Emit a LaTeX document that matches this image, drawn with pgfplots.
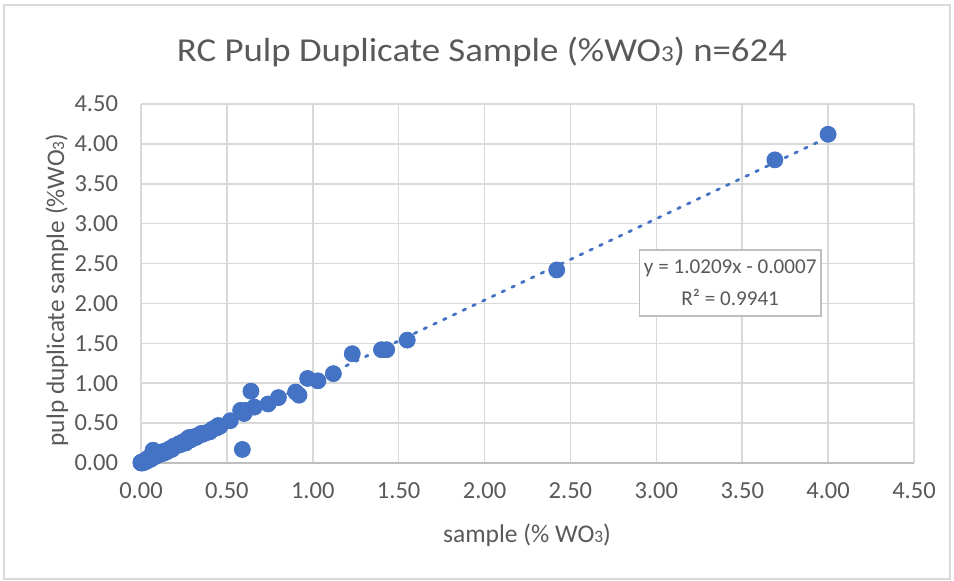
\documentclass[border=0pt]{standalone}
\usepackage{pgfplots}
\pgfplotsset{compat=1.18}
\usepackage{fontspec}
\setmainfont{Carlito}
\newfontfamily\titlefont{Carlito}[FakeStretch=1.1]
\definecolor{xlblue}{HTML}{4472C4}
\definecolor{txtgray}{HTML}{595959}
\definecolor{gridgray}{HTML}{D9D9D9}
\definecolor{axgray}{HTML}{BFBFBF}
\newcommand{\sub}[1]{{\fontsize{0.68\dimexpr\fontdimen6\font\relax}{1}\selectfont #1}}
\begin{document}
\begin{tikzpicture}
\useasboundingbox (-70.5bp,-59bp) rectangle (406.5bp,231.5bp);
\draw[gridgray, line width=0.8bp] (-68.5bp,-58bp) rectangle (404.5bp,229bp);
\begin{axis}[
  scale only axis,
  width=386.5bp, height=179.5bp,
  xmin=0, xmax=4.5, ymin=0, ymax=4.5,
  xtick={0,0.5,...,4.5}, ytick={0,0.5,...,4.5},
  grid=major,
  major grid style={gridgray, line width=0.8bp},
  axis line style={draw=none},
  tick style={draw=none},
  axis x line*=bottom,
  /pgf/number format/assume math mode=true,
  /pgf/number format/.cd, fixed, fixed zerofill, precision=2, /tikz/.cd,
  ticklabel style={font=\fontsize{12.3}{14}\selectfont, text=txtgray},
  xticklabel style={yshift=-6.5bp},
  yticklabel style={xshift=-8bp},
  clip=false,
]
\draw[axgray, line width=0.8bp] (axis cs:0,0) -- (axis cs:4.5,0);
\addplot[only marks, mark=*, mark size=4bp, xlblue, mark options={draw=xlblue, fill=xlblue}] coordinates {
(0.00,0.00) (0.00,0.01) (0.01,0.01) (0.01,0.00) (0.02,0.02) (0.02,0.01) (0.02,0.03)
(0.03,0.03) (0.03,0.02) (0.04,0.04) (0.04,0.03) (0.04,0.06) (0.05,0.05) (0.05,0.07)
(0.06,0.06) (0.06,0.05) (0.07,0.08) (0.07,0.16) (0.08,0.08) (0.08,0.11) (0.09,0.09)
(0.10,0.10) (0.10,0.13) (0.11,0.11) (0.12,0.14) (0.13,0.12) (0.14,0.15) (0.15,0.14)
(0.16,0.17) (0.17,0.18) (0.18,0.17) (0.19,0.21) (0.20,0.21) (0.21,0.22) (0.22,0.24)
(0.23,0.23) (0.24,0.26) (0.25,0.27) (0.26,0.25) (0.27,0.30) (0.28,0.32) (0.29,0.29)
(0.30,0.31) (0.31,0.33) (0.32,0.32) (0.33,0.34) (0.34,0.35) (0.35,0.37) (0.36,0.36)
(0.38,0.38) (0.40,0.39) (0.41,0.41) (0.42,0.43) (0.44,0.44) (0.45,0.47) (0.46,0.46)
(0.52,0.53) (0.58,0.66) (0.60,0.62) (0.61,0.66) (0.64,0.90) (0.59,0.17) (0.66,0.70)
(0.74,0.74) (0.80,0.82) (0.90,0.89) (0.92,0.85) (0.97,1.06) (1.03,1.03) (1.12,1.12)
(1.23,1.37) (1.40,1.42) (1.43,1.42) (1.55,1.54) (2.42,2.42) (3.69,3.80) (4.00,4.12)
};
\addplot[xlblue, line width=1.4bp, dash pattern=on 1.4bp off 4bp, line cap=round] coordinates {(0,-0.0007) (4.0,4.0829)};
\node[draw=axgray, fill=white, line width=0.8bp, align=center, text=txtgray,
  font=\fontsize{10.6}{16}\selectfont, minimum width=90.5bp, minimum height=33bp, inner sep=2bp]
  at (axis cs:3.43,2.26) {y = 1.0209x - 0.0007\\R² = 0.9941};
\end{axis}
\node[text=txtgray, font=\titlefont\fontsize{16.8}{19}\selectfont] at (170.5bp,205.5bp)
  {RC Pulp Duplicate Sample (\%WO\sub{3}) n=624};
\node[text=txtgray, font=\fontsize{12.8}{14}\selectfont] at (193bp,-36bp)
  {sample (\% WO\sub{3})};
\node[text=txtgray, font=\fontsize{12.7}{14}\selectfont, rotate=90] at (-42bp,86.5bp)
  {pulp duplicate sample (\%WO\sub{3})};
\end{tikzpicture}
\end{document}
